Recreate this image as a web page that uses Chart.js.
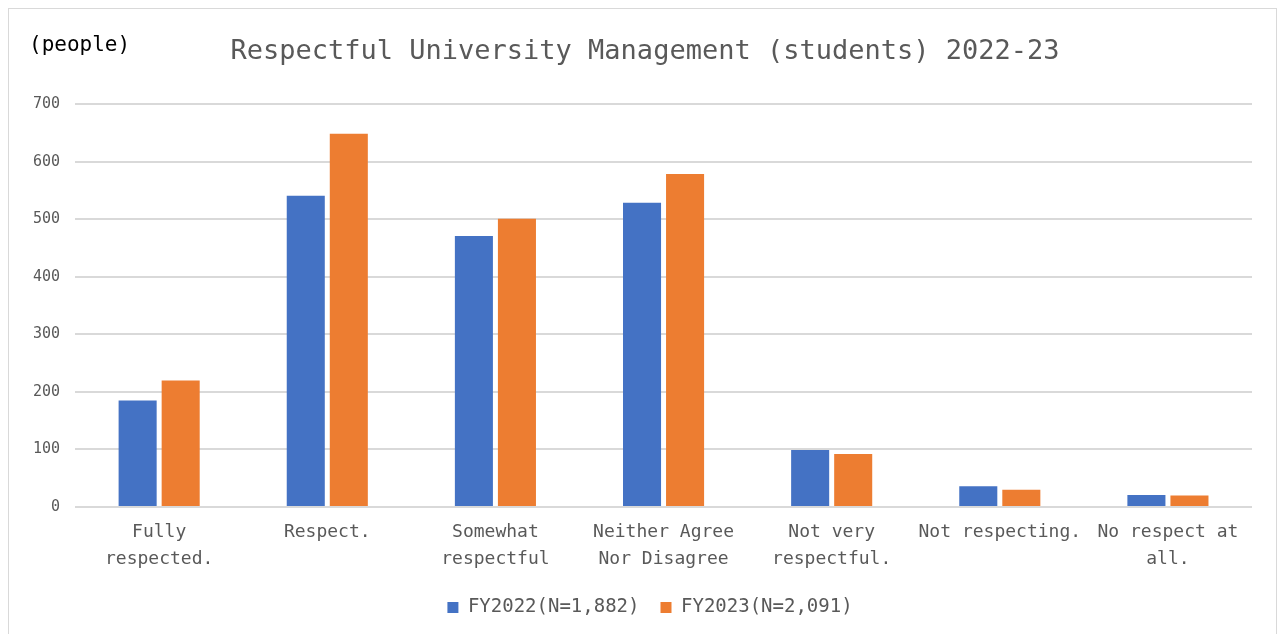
<!DOCTYPE html>
<html>
<head>
<meta charset="utf-8">
<script src="https://cdn.jsdelivr.net/npm/chart.js@4"></script>
<style>
    body { margin: 0; background: #fff; overflow: hidden; }
    #wrap { width: 1282px; height: 634px; }
</style>
</head>
<body>
<div id="wrap"><canvas id="surveyChart" width="1282" height="634"></canvas></div>
<script>
const categories = [
    ['Fully', 'respected.'],
    'Respect.',
    ['Somewhat', 'respectful'],
    ['Neither Agree', 'Nor Disagree'],
    ['Not very', 'respectful.'],
    'Not respecting.',
    ['No respect at', 'all.']
];
const fy2022 = [185, 541, 471, 529, 99, 36, 21];
const fy2023 = [220, 649, 501, 579, 92, 30, 20];
const seriesNames = ['FY2022(N=1,882)', 'FY2023(N=2,091)'];

const FONT = "'DejaVu Sans Mono', monospace";

// 바깥 테두리와 (people) 라벨
const framePlugin = {
    id: 'frame',
    afterLayout(chart) {
        // 제목과 범례를 원본처럼 살짝 오른쪽으로
        chart.titleBlock.left += 10;
        chart.titleBlock.right += 10;
        chart.legend.left += 15;
        chart.legend.right += 15;
    },
    beforeDraw(chart) {
        const ctx = chart.ctx;
        ctx.save();
        ctx.fillStyle = '#fff';
        ctx.fillRect(0, 0, chart.width, chart.height);
        ctx.strokeStyle = '#d9d9d9';
        ctx.lineWidth = 1;
        ctx.strokeRect(8.5, 8.5, 1268, 640);
        ctx.restore();
    },
    afterDraw(chart) {
        const ctx = chart.ctx;
        ctx.save();
        ctx.fillStyle = '#000';
        ctx.font = '21px ' + FONT;
        ctx.textBaseline = 'middle';
        ctx.fillText('(people)', 29, 46);
        ctx.restore();
    }
};

const chartData = {
    labels: categories,
    datasets: [{
        label: seriesNames[0],
        data: fy2022,
        backgroundColor: '#4472C4',
        categoryPercentage: 0.512,
        barPercentage: 0.884
    }, {
        label: seriesNames[1],
        data: fy2023,
        backgroundColor: '#ED7D31',
        categoryPercentage: 0.512,
        barPercentage: 0.884
    }]
};

const config = {
    type: 'bar',
    data: chartData,
    options: {
        responsive: false,
        animation: false,
        layout: {
            padding: { top: 36, left: 18, right: 30, bottom: 7 }
        },
        scales: {
            x: {
                grid: { display: false },
                border: { display: false },
                ticks: {
                    color: '#595959',
                    font: { family: FONT, size: 18, lineHeight: 1.5 },
                    maxRotation: 0,
                    autoSkip: false,
                    padding: 4
                }
            },
            y: {
                min: 0,
                max: 700,
                grid: { color: '#d9d9d9', lineWidth: 2, drawTicks: false },
                border: { display: false },
                ticks: {
                    stepSize: 100,
                    color: '#595959',
                    font: { family: FONT, size: 15 },
                    padding: 15
                }
            }
        },
        plugins: {
            legend: {
                position: 'bottom',
                labels: {
                    color: '#595959',
                    font: { family: FONT, size: 19 },
                    boxWidth: 11,
                    boxHeight: 11,
                    padding: 21
                }
            },
            title: {
                display: true,
                text: 'Respectful University Management (students) 2022-23',
                color: '#595959',
                font: { family: FONT, size: 27, weight: 'normal' },
                padding: { top: 0, bottom: 36 }
            },
            tooltip: { enabled: false }
        }
    },
    plugins: [framePlugin]
};

const ctx = document.getElementById('surveyChart').getContext('2d');
const surveyChart = new Chart(ctx, config);
</script>
</body>
</html>
